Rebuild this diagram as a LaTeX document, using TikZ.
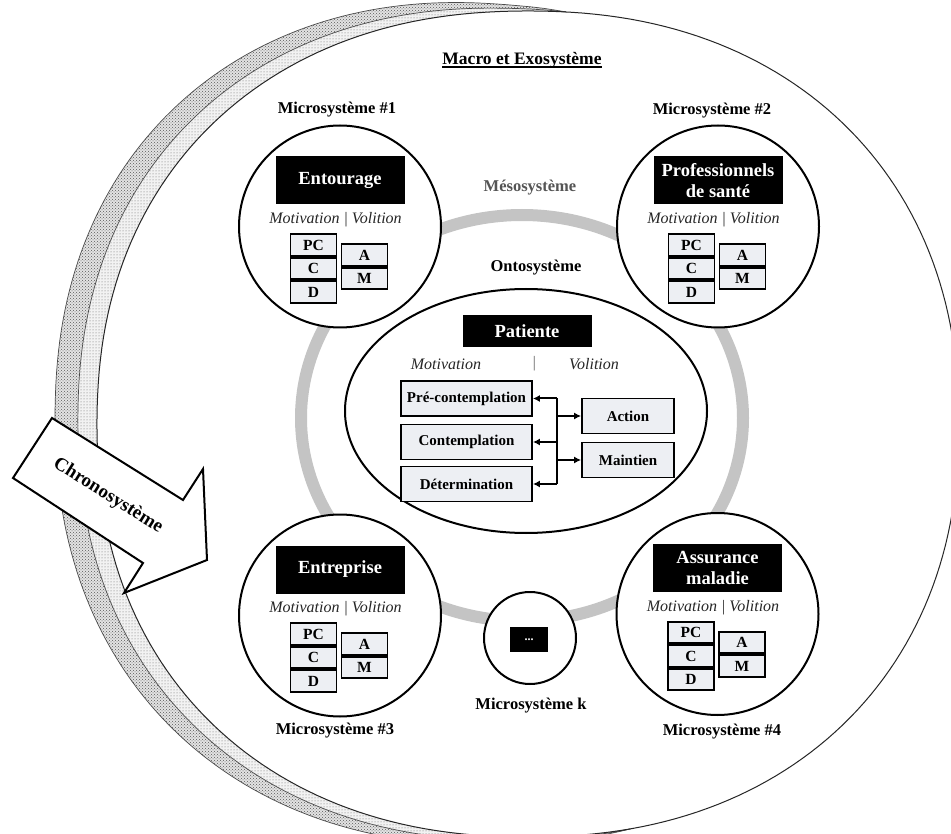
\documentclass[tikz,border=0pt]{standalone}
\usepackage{fontspec}
\setmainfont{Liberation Serif}
\usetikzlibrary{patterns,arrows.meta,shapes.geometric}
\definecolor{boxfill}{RGB}{237,239,243}
\definecolor{ringgray}{RGB}{196,196,196}
\definecolor{mesogray}{RGB}{85,85,85}
\newcommand{\myuline}[1]{\setbox0\hbox{#1}\rlap{\rule[-3.5pt]{\wd0}{1.4pt}}\box0}
\newcommand{\microsys}[4]{%
  \begin{scope}[shift={(#2,#3)}]
    \node[microc] (#1) at (0,46) {};
    \node[titlebox] (#1t) at (0,0) {#4};
    \node[mvtext] (#1mv) at (-4.5,39.5) {Motivation | Volition};
    \node[sbox] (#1pc) at (-26.5,64.5) {PC};
    \node[sbox] (#1c) at (-26.5,88) {C};
    \node[sbox] (#1d) at (-26.5,111.5) {D};
    \node[sbox] (#1a) at (24.5,74.5) {A};
    \node[sbox] (#1m) at (24.5,98) {M};
  \end{scope}}
\begin{document}
\begin{tikzpicture}[x=1pt,y=-1pt,
  declare function={
    sx(\t)=cos(\t)*pow(abs(cos(\t))+0.001,-0.09);
    sy(\t)=sin(\t)*pow(abs(sin(\t))+0.001,-0.09);
    bw(\s)=4*\s*(1-\s)*(1.2-0.6*\s);
  },
  lbl/.style={font=\bfseries\fontsize{16.5}{18}\selectfont, inner sep=0pt},
  titlebox/.style={fill=black, text=white, font=\bfseries\fontsize{18.5}{20.5}\selectfont, minimum width=129pt, minimum height=48pt, align=center, inner sep=0pt},
  mvtext/.style={font=\itshape\fontsize{16}{18}\selectfont, text=black!85, inner sep=0pt},
  sbox/.style={draw=black, line width=1.8pt, fill=boxfill, minimum width=46pt, minimum height=21.7pt, inner sep=0pt, font=\bfseries\fontsize{15.5}{17}\selectfont},
  stage/.style={draw=black, line width=1.8pt, fill=boxfill, minimum height=35pt, inner sep=0pt, font=\bfseries\fontsize{15}{17}\selectfont},
  microc/.style={circle, draw=black, line width=2pt, fill=white, minimum size=202pt, inner sep=0pt},
  conn/.style={line width=2pt},
  arr/.style={line width=2pt, -{Latex[length=7pt,width=7pt]}},
  bandline/.style={line width=0.7pt, black!70},
]
\useasboundingbox (0,0) rectangle (951,834);
\clip (0,0) rectangle (951,834);
\fill[white] (0,0) rectangle (951,834);

% chronosystem bands (outer dense, inner light)
\fill[preaction={fill=gray!22}, pattern=crosshatch dots, pattern color=black!65]
  plot[domain=0:1,samples=160,variable=\s] ({528+(431+46*bw(\s))*sx(-86-196*\s)},{424+(413+46*bw(\s))*sy(-86-196*\s)})
  -- plot[domain=1:0,samples=160,variable=\s] ({528+(431+21*bw(\s))*sx(-86-196*\s)},{424+(413+21*bw(\s))*sy(-86-196*\s)}) -- cycle;
\fill[preaction={fill=gray!10}, pattern=dots, pattern color=black!60]
  plot[domain=0:1,samples=160,variable=\s] ({528+(431+21*bw(\s))*sx(-86-196*\s)},{424+(413+21*bw(\s))*sy(-86-196*\s)})
  -- plot[domain=1:0,samples=160,variable=\s] ({528+431*sx(-86-196*\s)},{424+413*sy(-86-196*\s)}) -- cycle;
\draw[bandline] plot[domain=0:1,samples=160,variable=\s] ({528+(431+46*bw(\s))*sx(-86-196*\s)},{424+(413+46*bw(\s))*sy(-86-196*\s)});
\draw[bandline] plot[domain=0:1,samples=160,variable=\s] ({528+(431+21*bw(\s))*sx(-86-196*\s)},{424+(413+21*bw(\s))*sy(-86-196*\s)});

% macro / exosystem boundary
\draw[line width=1pt, black!85] plot[domain=0:360,samples=241,variable=\t] ({528+431*sx(\t)},{424+413*sy(\t)}) -- cycle;

% mesosystem ring
\draw[ringgray, line width=12pt] (522,418) ellipse [x radius=221, y radius=203];

% ontosystem
\node[ellipse, draw=black, line width=2pt, fill=white, minimum width=362pt, minimum height=244pt, inner sep=0pt] (onto) at (526,411) {};
\node[titlebox, minimum height=32pt] (pat) at (527,331) {Patiente};
\node[mvtext] (pmot) at (446,364) {Motivation};
\node[mvtext, text=black!60] (pbar) at (534,364) {|};
\node[mvtext] (pvol) at (594,364) {Volition};
\node[stage, minimum width=131pt] (pre) at (466.5,398.5) {Pré-contemplation};
\node[stage, minimum width=131pt] (cont) at (466.5,442) {Contemplation};
\node[stage, minimum width=131pt] (det) at (466.5,484) {Détermination};
\node[stage, minimum width=92pt] (act) at (628,416) {Action};
\node[stage, minimum width=92pt] (mai) at (628,460) {Maintien};
\coordinate (jt) at (557,398.5);
\coordinate (jb) at (557,484);
\draw[conn] (jt) -- (jb);
\draw[arr] (jt) -- (pre.east);
\draw[arr] (jt |- cont.east) -- (cont.east);
\draw[arr] (jb) -- (det.east);
\draw[arr] (jt |- act.west) -- (act.west);
\draw[arr] (jt |- mai.west) -- (mai.west);

% microsystems
\microsys{m1}{340}{180.5}{Entourage}
\microsys{m2}{718}{180.5}{Professionnels\\de santé}
\microsys{m3}{340}{569.5}{Entreprise}
\microsys{m4}{717.5}{568}{Assurance\\maladie}
\node[circle, draw=black, line width=2pt, fill=white, minimum size=92pt, inner sep=0pt] (mk) at (530,638) {};
\node[fill=black, text=white, minimum width=38pt, minimum height=25pt, inner sep=0pt, font=\bfseries\fontsize{12}{14}\selectfont] (mkt) at (529,639.5) {...};

% labels
\node[lbl, font=\bfseries\fontsize{17.5}{19}\selectfont] (macro) at (522,60) {\myuline{Macro et Exosystème}};
\node[lbl] (l1) at (337,110) {Microsystème \#1};
\node[lbl] (l2) at (712,111) {Microsystème \#2};
\node[lbl] (l3) at (335,731) {Microsystème \#3};
\node[lbl] (l4) at (722,732) {Microsystème \#4};
\node[lbl] (lk) at (531,706) {Microsystème k};
\node[lbl, text=mesogray] (meso) at (530,188) {Mésosystème};
\node[lbl] (ontol) at (536,268) {Ontosystème};

% chronosystem arrow
\draw[line width=2pt, fill=white, line join=miter] (52,418) -- (183,500) -- (203,469) -- (207,560) -- (124,593) -- (143,563) -- (13,478) -- cycle;
\node[font=\bfseries\fontsize{19}{21}\selectfont, rotate=-32, inner sep=0pt] (chrono) at (108,496) {Chronosystème};
\end{tikzpicture}
\end{document}
